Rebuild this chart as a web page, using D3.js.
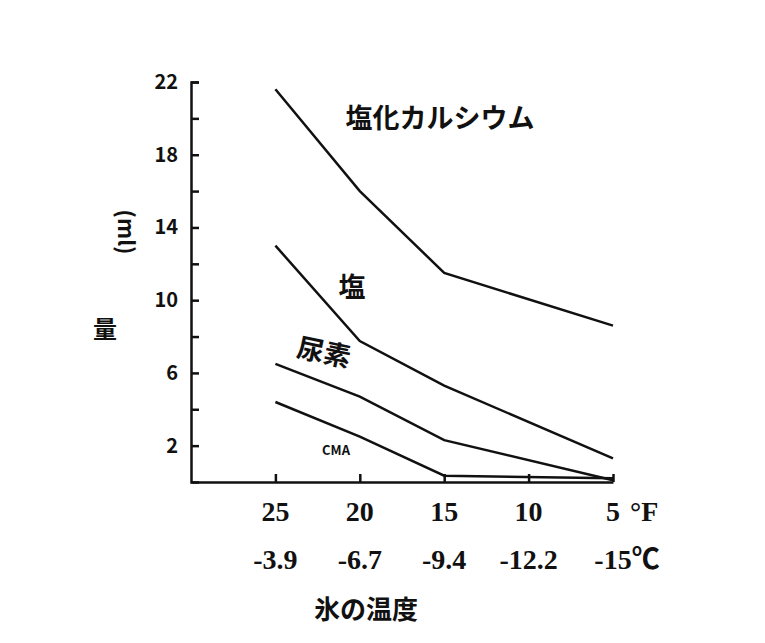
<!DOCTYPE html>
<html><head><meta charset="utf-8">
<script src="https://cdn.jsdelivr.net/npm/d3@7"></script>
<style>body{margin:0;background:#fff}text{font-family:"Noto Sans CJK JP","DejaVu Sans",sans-serif;font-weight:bold;fill:#111}</style>
</head><body>
<svg id="c" width="765" height="643"></svg>
<script>
var tempsF = [25, 20, 15, 5];
var cacl2 = [21.6, 16.0, 11.5, 8.6];
var salt = [13.0, 7.75, 5.3, 1.3];
var urea = [6.5, 4.7, 2.3, 0.1];
var cma = [4.4, 2.5, 0.35, 0.2];
var fTicks = [25, 20, 15, 10, 5];
var cLabels = ["-3.9", "-6.7", "-9.4", "-12.2", "-15℃"];
var yLabels = [2, 6, 10, 14, 18, 22];

var svg = d3.select("#c");
var x = d3.scaleLinear().domain([30, 5]).range([191, 613]);
var y = d3.scaleLinear().domain([0, 22]).range([482, 82]);

svg.append("g").attr("transform", "translate(191,0)")
  .call(d3.axisLeft(y).tickValues(d3.range(2, 23, 2)).tickSize(-8).tickFormat(""))
  .call(function(g){ g.selectAll("line,path").attr("stroke", "#111").attr("stroke-width", 2.5); });
svg.append("g").attr("transform", "translate(0,482)")
  .call(d3.axisTop(x).tickValues(fTicks).tickSize(8).tickSizeOuter(0).tickFormat(""))
  .call(function(g){ g.selectAll("line,path").attr("stroke", "#111").attr("stroke-width", 2.5); });

svg.selectAll("text.yl").data(yLabels).enter().append("text")
  .attr("x", 178).attr("y", function(d){ return y(d) + 7; })
  .attr("text-anchor", "end").style("font-size", "20px").text(function(d){ return d; });

var serif = "'Liberation Serif','Noto Sans CJK JP',serif";
svg.selectAll("text.fl").data(fTicks).enter().append("text")
  .attr("x", function(d){ return x(d); }).attr("y", 521)
  .attr("text-anchor", "middle").style("font-size", "28px").style("font-family", serif)
  .text(function(d){ return d; });
svg.append("text").attr("x", 630).attr("y", 521).attr("text-anchor", "start")
  .style("font-size", "28px").style("font-family", serif).text("°F");
svg.selectAll("text.cl").data(cLabels).enter().append("text")
  .attr("x", function(d, i){ return x(fTicks[i]) + (i == 4 ? 14 : 0); }).attr("y", 569)
  .attr("text-anchor", "middle").style("font-size", "28px").style("font-family", serif)
  .text(function(d){ return d; });
svg.append("text").attr("x", 366).attr("y", 619).attr("text-anchor", "middle")
  .style("font-size", "26px").text("氷の温度");

svg.append("text").attr("x", 105).attr("y", 338).attr("text-anchor", "middle")
  .style("font-size", "24px").text("量");
svg.append("text").attr("transform", "translate(118,232) rotate(90)").attr("text-anchor", "middle")
  .style("font-size", "22px").text("(ml)");

var line = d3.line().x(function(d){ return x(d[0]); }).y(function(d){ return y(d[1]); });
[cacl2, salt, urea, cma].forEach(function(s){
  svg.append("path").attr("d", line(d3.zip(tempsF, s)))
    .attr("fill", "none").attr("stroke", "#111").attr("stroke-width", 2.5);
});

svg.append("text").attr("x", 440).attr("y", 128).attr("text-anchor", "middle").style("font-size", "27px").text("塩化カルシウム");
svg.append("text").attr("x", 352).attr("y", 297).attr("text-anchor", "middle").style("font-size", "27px").text("塩");
svg.append("text").attr("transform", "translate(322,362) rotate(12)").attr("text-anchor", "middle").style("font-size", "27px").text("尿素");
svg.append("text").attr("x", 336).attr("y", 455).attr("text-anchor", "middle").style("font-size", "13px").text("CMA");
</script>
</body></html>
